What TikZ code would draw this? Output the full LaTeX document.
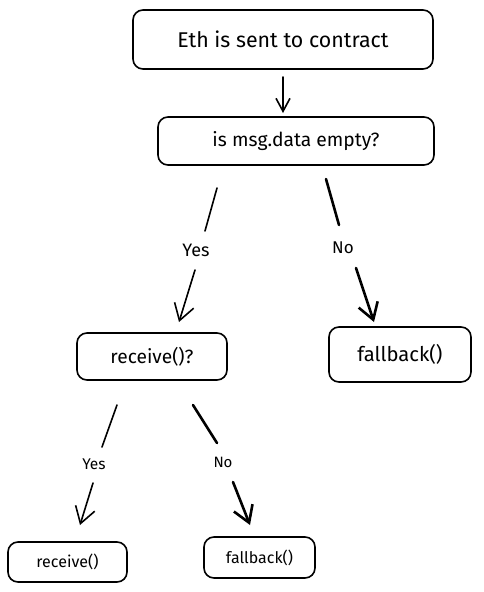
\documentclass[tikz,border=0pt]{standalone}
\usepackage{fontspec}
\setmainfont{Fira Sans}
\usetikzlibrary{arrows.meta}
\newcommand\fitw[2]{\resizebox{#1pt}{!}{#2}}
\begin{document}
\begin{tikzpicture}[x=1pt,y=-1pt,
  box/.style={draw,line width=1.6pt,rounded corners=10pt,inner sep=0pt},
  lbl/.style={inner sep=0pt},
  conn/.style={line width=1.6pt,line cap=round},
  heavy/.style={line width=2.6pt,line cap=round},
  arr/.style={-{Straight Barb[length=13pt,width=14pt]}},
  bigarr/.style={-{Straight Barb[length=16pt,width=20pt]}}]
\useasboundingbox (0,0) rectangle (483,592);
% boxes
\node[box,minimum width=300pt,minimum height=59pt] (b1) at (283,39.5) {\fitw{211}{Eth is sent to contract}};
\node[box,minimum width=276pt,minimum height=48pt] (b2) at (296,141) {\fitw{167}{is msg.data empty?}};
\node[box,minimum width=150pt,minimum height=47pt] (b3) at (152,356.5) {\fitw{83}{receive()?}};
\node[box,minimum width=142pt,minimum height=55pt] (b4) at (400,354.5) {\fitw{85}{fallback()}};
\node[box,minimum width=119pt,minimum height=40pt] (b5) at (67.5,562) {\fitw{62}{receive()}};
\node[box,minimum width=111pt,minimum height=41pt] (b6) at (259.5,557.5) {\fitw{67}{fallback()}};
% labels
\node[lbl,font=\fontsize{18pt}{20pt}\selectfont] (y1) at (196,250) {Yes};
\node[lbl,font=\fontsize{17pt}{20pt}\selectfont] (n1) at (343,248) {No};
\node[lbl,font=\fontsize{15.5pt}{18pt}\selectfont] (y2) at (94,464) {Yes};
\node[lbl,font=\fontsize{15pt}{18pt}\selectfont] (n2) at (223,462) {No};
% connector end points
\coordinate (a1) at (217,188); \coordinate (a2) at (205,231);
\coordinate (a3) at (195,270); \coordinate (a4) at (179,322);
\coordinate (c1) at (326,179); \coordinate (c2) at (339,225);
\coordinate (c3) at (356,268); \coordinate (c4) at (374,322);
\coordinate (d1) at (117,405); \coordinate (d2) at (102,447);
\coordinate (d3) at (93,483);  \coordinate (d4) at (80,525);
\coordinate (e1) at (193,405); \coordinate (e2) at (217,443);
\coordinate (e3) at (233,482); \coordinate (e4) at (250,525);
% connectors
\draw[conn,arr] (b1) ++(0,37.5) coordinate (t1) -- ++(0,36) coordinate (t2);
\draw[conn] (a1) -- (a2);
\draw[conn,bigarr] (a3) -- (a4);
\draw[heavy] (c1) -- (c2);
\draw[heavy,bigarr] (c3) -- (c4);
\draw[conn] (d1) -- (d2);
\draw[conn,bigarr] (d3) -- (d4);
\draw[heavy] (e1) -- (e2);
\draw[heavy,bigarr] (e3) -- (e4);
\end{tikzpicture}
\end{document}
